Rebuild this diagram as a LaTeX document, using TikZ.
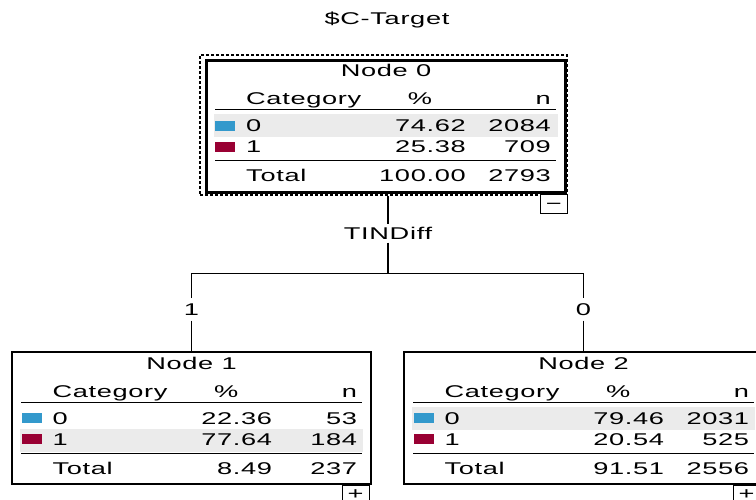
\documentclass[tikz,border=0pt]{standalone}
\usepackage{fontspec}
\newfontfamily\spssfont[FakeStretch=1.6,LetterSpace=4.0]{Liberation Sans}
\usetikzlibrary{positioning,calc}
\definecolor{catblue}{RGB}{51,153,204}
\definecolor{catred}{RGB}{153,0,51}
\definecolor{rowgray}{RGB}{235,235,235}
\tikzstyle{treenode}=[draw,line width=1.4pt,minimum width=359pt,minimum height=132pt,inner sep=0pt]
\tikzstyle{rootnode}=[treenode,line width=3pt]
\tikzstyle{selframe}=[draw,dash pattern=on 3pt off 2pt,line width=1.6pt,minimum width=367pt,minimum height=140pt,inner sep=0pt]
\tikzstyle{txt}=[font=\spssfont\fontsize{17}{20}\selectfont,inner sep=0pt,text height=12pt,text depth=0pt]
\tikzstyle{rule}=[draw,line width=1.2pt]
\tikzstyle{connector}=[draw,line width=1.8pt]
\tikzstyle{button}=[draw,fill=white,line width=1.2pt,minimum width=27pt,minimum height=17pt,inner sep=0pt,anchor=north east]
\tikzstyle{swatch}=[minimum width=20pt,minimum height=10pt,inner sep=0pt,anchor=west]

\begin{document}
\begin{tikzpicture}[x=1pt,y=-1pt]
    \useasboundingbox (0,0) rectangle (756,499);
    \clip (0,0) rectangle (756,499);

    % Target name
    \node[txt] (target) at (387,18) {\$C-Target};

    % The tree nodes
    \node[selframe] (sel0) at (383.5,125) {};
    \node[rootnode] (n0) at (386,126) {};
    \node[treenode] (n1) at (191.5,418) {};
    \node[treenode] (n2) at (583.5,418) {};

    % Shaded row of the modal category
    \foreach \name/\row in {n0/67, n1/89, n2/67}
        \fill[rowgray] ($(\name.north west)+(9,\row-11.5)$) rectangle ($(\name.north east)+(-9,\row+11.5)$);

    % Then the tables
    \foreach \name/\title/\pa/\na/\pb/\nb/\pt/\nt in {n0/Node 0/74.62/2084/25.38/709/100.00/2793,
                n1/Node 1/22.36/53/77.64/184/8.49/237, n2/Node 2/79.46/2031/20.54/525/91.51/2556}
    {
        \node[txt] (\name-title) at ($(\name.north)+(0,12)$) {\title};
        \node[txt,anchor=west] (\name-cat) at ($(\name.north west)+(41,40)$) {Category};
        \node[txt] (\name-pct) at ($(\name.north west)+(215,40)$) {\%};
        \node[txt,anchor=east] (\name-n) at ($(\name.north west)+(346,40)$) {n};
        \path[rule] ($(\name.north west)+(10,51)$) -- ($(\name.north west)+(351,51)$);

        \node[swatch,fill=catblue] (\name-sw0) at ($(\name.north west)+(10,67)$) {};
        \node[txt,anchor=west] (\name-c0) at ($(\name.north west)+(41,67)$) {0};
        \node[txt,anchor=east] (\name-p0) at ($(\name.north west)+(261,67)$) {\pa};
        \node[txt,anchor=east] (\name-n0) at ($(\name.north west)+(346,67)$) {\na};

        \node[swatch,fill=catred] (\name-sw1) at ($(\name.north west)+(10,88)$) {};
        \node[txt,anchor=west] (\name-c1) at ($(\name.north west)+(41,88)$) {1};
        \node[txt,anchor=east] (\name-p1) at ($(\name.north west)+(261,88)$) {\pb};
        \node[txt,anchor=east] (\name-n1) at ($(\name.north west)+(346,88)$) {\nb};
        \path[rule] ($(\name.north west)+(10,102)$) -- ($(\name.north west)+(351,102)$);

        \node[txt,anchor=west] (\name-tot) at ($(\name.north west)+(41,117)$) {Total};
        \node[txt,anchor=east] (\name-pt) at ($(\name.north west)+(261,117)$) {\pt};
        \node[txt,anchor=east] (\name-nt) at ($(\name.north west)+(346,117)$) {\nt};
    }

    % Collapse / expand buttons
    \node[button,txt,minimum height=19pt] (btn0) at ($(n0.south east)+(1,0)$) {−};
    \node[button,txt,minimum height=17pt] (btn1) at ($(n1.south east)+(-2,0)$) {+};
    \node[button,txt,minimum height=17pt] (btn2) at ($(n2.south east)+(-3,0)$) {+};

    % Split and branches
    \node[txt,inner sep=3pt] (split-var) at ($(n0.south)+(2,40)$) {TINDiff};
    \coordinate (split) at ($(split-var)+(0,40)$);
    \node[txt,inner sep=5pt] (b1) at ($(n1.north)+(0,-42)$) {1};
    \node[txt,inner sep=5pt] (b2) at ($(n2.north)+(0,-42)$) {0};

    \path[connector] (split-var |- sel0.south) -- (split-var);
    \path[connector] (split-var) -- (split);
    \path[connector] (b1) |- (split) -| (b2);
    \path[connector] (b1) -- (n1);
    \path[connector] (b2) -- (n2);

\end{tikzpicture}
\end{document}
